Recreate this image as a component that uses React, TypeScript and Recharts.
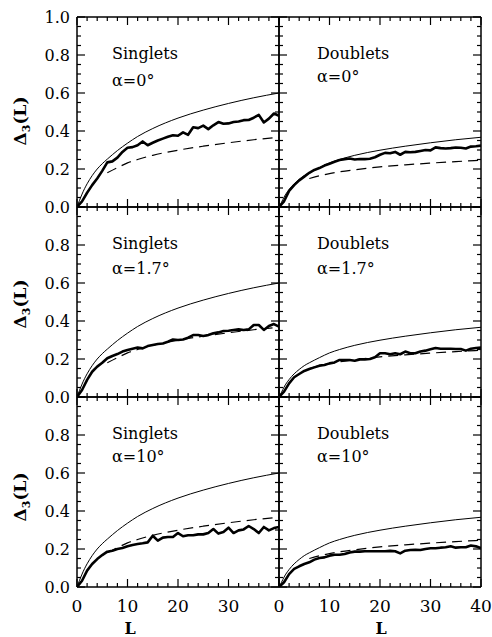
import React from 'react';
import { LineChart, Line, XAxis, YAxis } from 'recharts';

// ---------- data ----------
const L_INT = [0, 1, 2, 3, 4, 5, 6, 7, 8, 9, 10, 11, 12, 13, 14, 15, 16, 17, 18, 19, 20, 21, 22, 23, 24, 25, 26, 27, 28, 29, 30, 31, 32, 33, 34, 35, 36, 37, 38, 39, 40];

const SINGLETS_A0 = [0, 0.03, 0.075, 0.115, 0.15, 0.19, 0.235, 0.24, 0.26, 0.29, 0.312, 0.315, 0.325, 0.345, 0.325, 0.338, 0.35, 0.36, 0.37, 0.378, 0.375, 0.393, 0.38, 0.42, 0.415, 0.428, 0.41, 0.43, 0.447, 0.438, 0.44, 0.447, 0.45, 0.457, 0.458, 0.47, 0.485, 0.445, 0.465, 0.492, 0.48];
const SINGLETS_A17 = [0, 0.037, 0.09, 0.133, 0.16, 0.18, 0.204, 0.216, 0.226, 0.239, 0.247, 0.254, 0.26, 0.256, 0.268, 0.274, 0.279, 0.282, 0.291, 0.303, 0.3, 0.303, 0.312, 0.326, 0.326, 0.321, 0.326, 0.335, 0.34, 0.347, 0.349, 0.353, 0.356, 0.353, 0.356, 0.379, 0.379, 0.353, 0.374, 0.384, 0.37];
const SINGLETS_A10 = [0, 0.033, 0.086, 0.121, 0.147, 0.168, 0.186, 0.191, 0.2, 0.205, 0.214, 0.221, 0.226, 0.23, 0.235, 0.27, 0.244, 0.26, 0.263, 0.263, 0.284, 0.267, 0.272, 0.272, 0.277, 0.277, 0.284, 0.305, 0.281, 0.289, 0.312, 0.284, 0.298, 0.303, 0.321, 0.305, 0.284, 0.316, 0.298, 0.31, 0.316];
const DOUBLETS_A0 = [0, 0.03, 0.085, 0.115, 0.14, 0.16, 0.18, 0.195, 0.205, 0.218, 0.228, 0.238, 0.247, 0.252, 0.255, 0.25, 0.253, 0.252, 0.254, 0.262, 0.275, 0.285, 0.283, 0.29, 0.275, 0.29, 0.288, 0.29, 0.295, 0.3, 0.298, 0.314, 0.31, 0.308, 0.31, 0.313, 0.312, 0.308, 0.318, 0.32, 0.323];
const DOUBLETS_A17 = [0, 0.028, 0.072, 0.104, 0.121, 0.137, 0.147, 0.156, 0.165, 0.168, 0.177, 0.182, 0.195, 0.195, 0.195, 0.191, 0.198, 0.198, 0.2, 0.209, 0.23, 0.23, 0.225, 0.23, 0.225, 0.239, 0.23, 0.23, 0.239, 0.244, 0.251, 0.258, 0.254, 0.254, 0.254, 0.253, 0.253, 0.244, 0.254, 0.258, 0.26];
const DOUBLETS_A10 = [0, 0.025, 0.068, 0.095, 0.109, 0.121, 0.13, 0.144, 0.153, 0.156, 0.165, 0.17, 0.17, 0.174, 0.182, 0.186, 0.186, 0.188, 0.188, 0.188, 0.188, 0.188, 0.19, 0.188, 0.177, 0.191, 0.195, 0.196, 0.195, 0.2, 0.204, 0.204, 0.207, 0.209, 0.214, 0.207, 0.209, 0.209, 0.218, 0.214, 0.204];

// smooth reference curves
const L_THEORY = [0, 0.5, 1, 2, 3, 4, 5, 6, 8, 10, 12, 15, 20, 25, 30, 35, 40];
const TWO_GOE = [0, 0.035, 0.068, 0.122, 0.165, 0.2, 0.228, 0.252, 0.297, 0.336, 0.371, 0.413, 0.468, 0.51, 0.545, 0.575, 0.6];
const GOE = [0, 0.025, 0.052, 0.092, 0.122, 0.145, 0.165, 0.18, 0.207, 0.232, 0.25, 0.272, 0.299, 0.32, 0.338, 0.354, 0.367];
const L_DASH = [6, 8, 10, 12, 15, 20, 25, 30, 35, 40];
const GOE_DASH = [0.18, 0.207, 0.232, 0.25, 0.272, 0.299, 0.32, 0.338, 0.354, 0.367];
const GUE_DASH = [0.15, 0.164, 0.176, 0.185, 0.196, 0.211, 0.222, 0.231, 0.239, 0.246];

// ticks
const X_TICKS = [0, 2, 4, 6, 8, 10, 12, 14, 16, 18, 20, 22, 24, 26, 28, 30, 32, 34, 36, 38, 40];
const Y_TICKS = [0, 0.05, 0.1, 0.15, 0.2, 0.25, 0.3, 0.35, 0.4, 0.45, 0.5, 0.55, 0.6, 0.65, 0.7, 0.75, 0.8, 0.85, 0.9, 0.95, 1.0];

const TITLES = ['Singlets', 'Doublets'];
const ALPHAS = ['α=0°', 'α=1.7°', 'α=10°'];

// ---------- helpers ----------
const zip = (xs: number[], ys: number[]) => xs.map((x, i) => ({ L: x, v: ys[i] }));

const FONT = '"DejaVu Serif", "Liberation Serif", serif';
const W = 492;
const H = 637;
const PLOT_W = 202;
const PLOT_H = 190;
const COL_LEFT = [77, 279];
const ROW_TOP = [17, 207, 397];

type Side = 'bottom' | 'top' | 'left' | 'right';

const isMajorX = (v: number) => Math.abs(v / 10 - Math.round(v / 10)) < 1e-6;
const isMajorY = (v: number) => Math.abs(v * 5 - Math.round(v * 5)) < 1e-6;

function tickRenderer(side: Side, label?: (v: number) => string | null) {
  return (props: any) => {
    const x = Number(props.x);
    const y = Number(props.y);
    const v = Number(props.payload.value);
    const major = side === 'bottom' || side === 'top' ? isMajorX(v) : isMajorY(v);
    const len = major ? 8 : 4;
    let x2 = x;
    let y2 = y;
    if (side === 'bottom') y2 = y - len;
    if (side === 'top') y2 = y + len;
    if (side === 'left') x2 = x + len;
    if (side === 'right') x2 = x - len;
    const txt = label && major ? label(v) : null;
    return (
      <g>
        <path d={`M${x},${y}L${x2},${y2}`} stroke="#000" strokeWidth={1.2} fill="none" />
        {txt !== null && side === 'bottom' && (
          <text x={x} y={y + 25} textAnchor="middle" fontFamily={FONT} fontSize={17} fill="#000">
            {txt}
          </text>
        )}
        {txt !== null && side === 'left' && (
          <text x={x - 7} y={y + 6} textAnchor="end" fontFamily={FONT} fontSize={16} fill="#000">
            {txt}
          </text>
        )}
      </g>
    );
  };
}

type PanelCfg = {
  row: number;
  col: number;
  thick: number[];
};

const PANELS: PanelCfg[] = [
  { row: 0, col: 0, thick: SINGLETS_A0 },
  { row: 0, col: 1, thick: DOUBLETS_A0 },
  { row: 1, col: 0, thick: SINGLETS_A17 },
  { row: 1, col: 1, thick: DOUBLETS_A17 },
  { row: 2, col: 0, thick: SINGLETS_A10 },
  { row: 2, col: 1, thick: DOUBLETS_A10 },
];

const axisLine = { stroke: '#000', strokeWidth: 1.5 };

function Panel({ cfg }: { cfg: PanelCfg }) {
  const left = COL_LEFT[cfg.col];
  const top = ROW_TOP[cfg.row];
  const margin = {
    left: left - 1,
    right: W - (left + PLOT_W) - 1,
    top: top - 1,
    bottom: H - (top + PLOT_H) - 1,
  };
  const singlets = cfg.col === 0;
  const thin = singlets ? zip(L_THEORY, TWO_GOE) : zip(L_THEORY, GOE);
  const dashed = singlets ? zip(L_DASH, GOE_DASH) : zip(L_DASH, GUE_DASH);
  const thick = zip(L_INT, cfg.thick);

  const xLabel =
    cfg.row === 2
      ? (v: number) => (cfg.col === 0 && v === 40 ? null : String(v))
      : undefined;
  const yLabel =
    cfg.col === 0
      ? (v: number) => (cfg.row > 0 && v > 0.95 ? null : v.toFixed(1))
      : undefined;

  return (
    <div style={{ position: 'absolute', left: 0, top: 0 }}>
      <LineChart width={W} height={H} margin={margin}>
        <XAxis
          xAxisId="b"
          type="number"
          dataKey="L"
          domain={[0, 40]}
          ticks={X_TICKS}
          interval={0}
          height={1}
          tickSize={0}
          tickMargin={0}
          tickLine={false}
          axisLine={axisLine}
          tick={tickRenderer('bottom', xLabel)}
          allowDataOverflow
        />
        <XAxis
          xAxisId="t"
          orientation="top"
          type="number"
          dataKey="L"
          domain={[0, 40]}
          ticks={X_TICKS}
          interval={0}
          height={1}
          tickSize={0}
          tickMargin={0}
          tickLine={false}
          axisLine={axisLine}
          tick={tickRenderer('top')}
          allowDataOverflow
        />
        <YAxis
          yAxisId="l"
          type="number"
          domain={[0, 1]}
          ticks={Y_TICKS}
          interval={0}
          width={1}
          tickSize={0}
          tickMargin={0}
          tickLine={false}
          axisLine={axisLine}
          tick={tickRenderer('left', yLabel)}
          allowDataOverflow
        />
        <YAxis
          yAxisId="r"
          orientation="right"
          type="number"
          domain={[0, 1]}
          ticks={Y_TICKS}
          interval={0}
          width={1}
          tickSize={0}
          tickMargin={0}
          tickLine={false}
          axisLine={axisLine}
          tick={tickRenderer('right')}
          allowDataOverflow
        />
        <Line
          xAxisId="b"
          yAxisId="l"
          data={thin}
          dataKey="v"
          type="monotone"
          stroke="#000"
          strokeWidth={1}
          dot={false}
          activeDot={false}
          isAnimationActive={false}
        />
        <Line
          xAxisId="b"
          yAxisId="l"
          data={dashed}
          dataKey="v"
          type="monotone"
          stroke="#000"
          strokeWidth={1.2}
          strokeDasharray="10 6"
          dot={false}
          activeDot={false}
          isAnimationActive={false}
        />
        <Line
          xAxisId="b"
          yAxisId="l"
          data={thick}
          dataKey="v"
          type="linear"
          stroke="#000"
          strokeWidth={2.6}
          strokeLinejoin="round"
          dot={false}
          activeDot={false}
          isAnimationActive={false}
        />
      </LineChart>
    </div>
  );
}

// annotation positions
const TEXT_X = [112, 317];
const LINE1_Y = [59, 249, 439];
const LINE2_Y = [[86, 82], [274, 274], [462, 462]];
const YTITLE_Y = [121, 304, 497];

export default function App() {
  return (
    <div style={{ position: 'absolute', left: 0, top: 0, width: W, height: H, background: '#fff' }}>
      {PANELS.map((p, i) => (
        <Panel key={i} cfg={p} />
      ))}
      <svg
        width={W}
        height={H}
        style={{ position: 'absolute', left: 0, top: 0, pointerEvents: 'none' }}
        fontFamily={FONT}
      >
        {PANELS.map((p, i) => (
          <g key={i}>
            <text x={TEXT_X[p.col]} y={LINE1_Y[p.row]} fontSize={16} fill="#000">
              {TITLES[p.col]}
            </text>
            <text x={TEXT_X[p.col]} y={LINE2_Y[p.row][p.col]} fontSize={16} fill="#000">
              {ALPHAS[p.row]}
            </text>
          </g>
        ))}
        {YTITLE_Y.map((cy, i) => (
          <text
            key={i}
            x={0}
            y={0}
            transform={`translate(26 ${cy}) rotate(-90)`}
            textAnchor="middle"
            fontSize={17}
            fontWeight="bold"
            fill="#000"
          >
            Δ<tspan dy={4} fontSize={11}>3</tspan>
            <tspan dy={-4}>(L)</tspan>
          </text>
        ))}
        <text x={130} y={634} textAnchor="middle" fontSize={16} fontWeight="bold" fill="#000">
          L
        </text>
        <text x={381} y={634} textAnchor="middle" fontSize={16} fontWeight="bold" fill="#000">
          L
        </text>
      </svg>
    </div>
  );
}
